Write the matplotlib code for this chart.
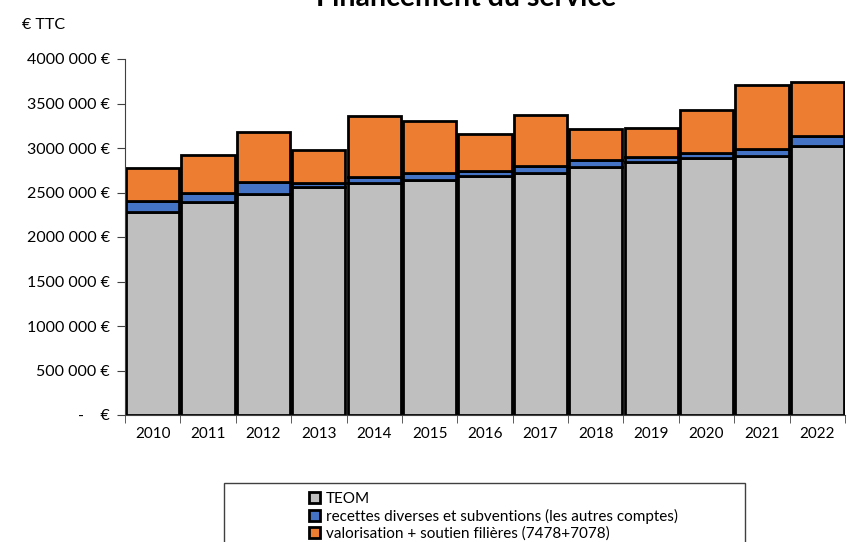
import matplotlib.pyplot as plt
from matplotlib.patches import Rectangle
from matplotlib.ticker import FuncFormatter

plt.rcParams['font.family'] = ['Lato', 'DejaVu Sans']

# data
years = ['2010', '2011', '2012', '2013', '2014', '2015', '2016',
         '2017', '2018', '2019', '2020', '2021', '2022']
teom = [2284000, 2390000, 2483000, 2566000, 2607000, 2637000, 2685000,
        2722000, 2783000, 2843000, 2888000, 2910000, 3022000]
recettes = [124000, 108000, 138000, 37000, 67000, 78000, 60000,
            79000, 79000, 52000, 56000, 83000, 113000]
valorisation = [364000, 420000, 555000, 371000, 686000, 588000, 416000,
                570000, 348000, 330000, 479000, 718000, 610000]

labels = ['TEOM',
          'recettes diverses et subventions (les autres comptes)',
          'valorisation + soutien filières (7478+7078)']
colors = ['#BFBFBF', '#4472C4', '#ED7D31']


def euro(v, pos):
    if v == 0:
        return '-    €'
    s = '{:,.0f}'.format(v).replace(',', ' ')
    # excel shows the first group stuck together
    if v >= 1000000:
        parts = s.split(' ')
        s = parts[0] + parts[1] + ' ' + ' '.join(parts[2:])
    return s + ' €'


fig = plt.figure(figsize=(8.52, 5.42), dpi=100)
ax = fig.add_axes([125/852, 1-415/542, 720/852, 356/542])

x = range(len(years))
bottom2 = [a + b for a, b in zip(teom, recettes)]
ax.bar(x, teom, width=0.96, color=colors[0], edgecolor='black', linewidth=2, label=labels[0])
ax.bar(x, recettes, width=0.96, bottom=teom, color=colors[1], edgecolor='black', linewidth=2, label=labels[1])
ax.bar(x, valorisation, width=0.96, bottom=bottom2, color=colors[2], edgecolor='black', linewidth=2, label=labels[2])

ax.set_xlim(-0.5, len(years) - 0.5)
ax.set_ylim(0, 4000000)
ax.set_yticks(range(0, 4000001, 500000))
ax.yaxis.set_major_formatter(FuncFormatter(euro))
ax.set_xticks([i for i in x])
ax.set_xticklabels(years)
ax.set_xticks([i - 0.5 for i in range(len(years) + 1)], minor=True)
ax.tick_params(axis='x', which='major', length=0, pad=9, labelsize=11)
ax.tick_params(axis='x', which='minor', length=6, color='#404040')
ax.tick_params(axis='y', length=6, labelsize=11.5, pad=5, color='#404040')
for s in ['top', 'right']:
    ax.spines[s].set_visible(False)
ax.spines['left'].set_color('#404040')
ax.spines['bottom'].set_color('#404040')

fig.text(466/852, 1 - 6/542, 'Financement du service', ha='center', va='baseline',
         fontsize=20.5, fontweight='bold')
fig.text(22/852, 1 - 25/542, '€ TTC', ha='left', va='center', fontsize=11.5)

# legend box
fig.patches.append(Rectangle((224/852, -0.05), 521/852, 0.05 + 1 - 483/542,
                             transform=fig.transFigure, fill=False,
                             edgecolor='#404040', linewidth=1))
h, l = ax.get_legend_handles_labels()
fig.legend(h, l, loc='upper left', bbox_to_anchor=(298/852, 1 - 481/542),
           frameon=False, fontsize=11, handlelength=0.75, handleheight=0.75,
           handletextpad=0.35, labelspacing=0.2, borderpad=0.2)

fig.savefig('out.png', dpi=100)
